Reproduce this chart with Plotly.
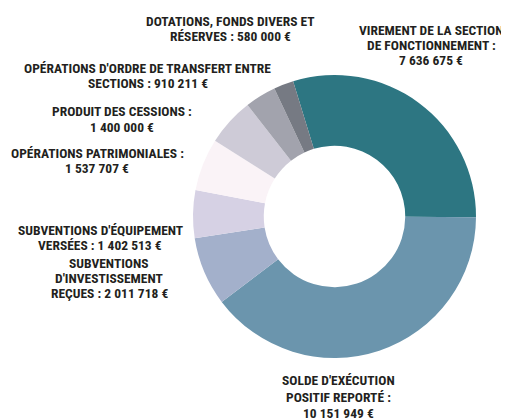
import plotly.graph_objects as go

categories = [
    "VIREMENT DE LA SECTION<br>DE FONCTIONNEMENT :<br>7 636 675 €",
    "SOLDE D'EXÉCUTION<br>POSITIF REPORTÉ :<br>10 151 949 €",
    "SUBVENTIONS<br>D'INVESTISSEMENT<br>REÇUES : 2 011 718 €",
    "SUBVENTIONS D'ÉQUIPEMENT<br>VERSÉES : 1 402 513 €",
    "OPÉRATIONS PATRIMONIALES :<br>1 537 707 €",
    "PRODUIT DES CESSIONS :<br>1 400 000 €",
    "OPÉRATIONS D'ORDRE DE TRANSFERT ENTRE<br>SECTIONS : 910 211 €",
    "DOTATIONS, FONDS DIVERS ET<br>RÉSERVES : 580 000 €",
]
values = [7636675, 10151949, 2011718, 1402513, 1537707, 1400000, 910211, 580000]
colors = ["#2D7682", "#6B95AD", "#A3B0CB", "#D6D1E4", "#FAF3F7", "#CECBD7", "#A2A3AD", "#767A83"]

# Figure size (page body keeps an 8px margin around the plot div)
W, H = 501, 412
OFF = 8

# label placement in page pixels: x centre, y centre of each line
label_x = [431, 338, 109, 100, 97, 122, 147.5, 230]
label_lines_y = [
    [30, 44.5, 59.5],
    [379.5, 396.5, 412.5],
    [263, 278, 293],
    [230, 245],
    [153, 168],
    [111.5, 126.5],
    [68, 83],
    [20.5, 36],
]


def px(x):
    return (x - OFF) / W


def py(y):
    return 1 - (y - OFF) / H


fig = go.Figure()
cx, cy, r = 334.5 - OFF, 216.5 - OFF, 141.5
fig.add_trace(go.Pie(
    values=values,
    labels=categories,
    marker=dict(colors=colors, line=dict(width=0)),
    hole=0.5,
    sort=False,
    direction="clockwise",
    rotation=-17,
    textinfo="none",
    hoverinfo="label+value",
    showlegend=False,
    domain=dict(x=[(cx - r) / W, (cx + r) / W],
                y=[(H - cy - r) / H, (H - cy + r) / H]),
))

font = dict(family="Roboto Condensed, Roboto, sans-serif",
            size=13.5, color="#231F20")
for lab, x, ys in zip(categories, label_x, label_lines_y):
    for line, y in zip(lab.split("<br>"), ys):
        fig.add_annotation(
            text="<b>" + line + "</b>", x=px(x), y=py(y), xref="paper", yref="paper",
            showarrow=False, align="center", xanchor="center", yanchor="middle",
            font=font,
        )

fig.update_layout(
    width=W, height=H,
    margin=dict(l=0, r=0, t=0, b=0),
    paper_bgcolor="white", plot_bgcolor="white",
)
fig.write_html("out.html")
